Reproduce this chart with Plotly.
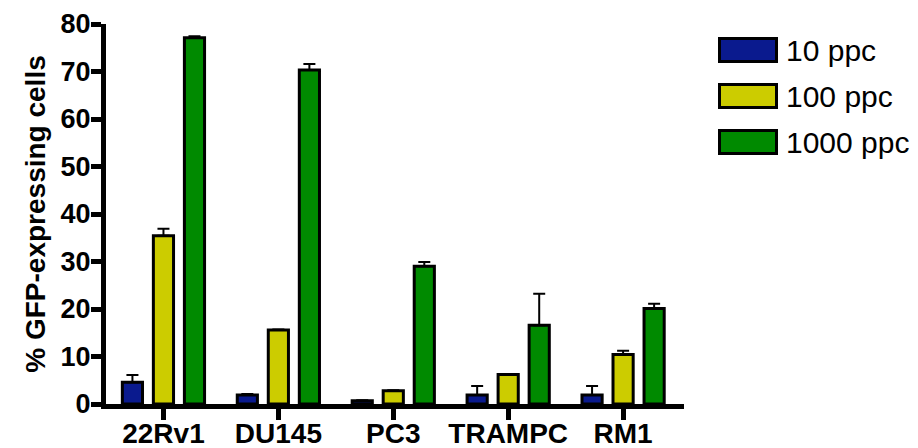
import plotly.graph_objects as go

# Cell lines and transfection doses
cell_lines = ["22Rv1", "DU145", "PC3", "TRAMPC", "RM1"]
series_names = ["10 ppc", "100 ppc", "1000 ppc"]
series_colors = ["#0A1A8E", "#CCCC00", "#008A00"]

# % GFP-expressing cells (mean) per dose
gfp_10 = [4.6, 1.9, 0.7, 1.9, 1.9]
gfp_100 = [35.4, 15.6, 2.8, 6.2, 10.4]
gfp_1000 = [77.1, 70.3, 29.0, 16.6, 20.1]

# Upper error (SD) per dose
err_10 = [1.5, 0.2, 0.1, 1.9, 1.9]
err_100 = [1.5, 0.1, 0.1, 0.1, 0.8]
err_1000 = [0.3, 1.3, 0.9, 6.6, 1.0]

y_ticks = [0, 10, 20, 30, 40, 50, 60, 70, 80]

values = [gfp_10, gfp_100, gfp_1000]
errors = [err_10, err_100, err_1000]

FONT = "Liberation Sans, Arial, sans-serif"

fig = go.Figure()
for name, color, vals, errs in zip(series_names, series_colors, values, errors):
    fig.add_trace(go.Bar(
        x=cell_lines,
        y=vals,
        name=name,
        marker=dict(color=color, line=dict(color="black", width=3)),
        error_y=dict(type="data", symmetric=False, array=errs,
                     arrayminus=[0] * len(errs), color="black",
                     thickness=2, width=6),
        showlegend=False,
    ))

# Figure geometry (pixels) used to place the custom legend
W, H = 918, 448
ML, MR, MT, MB = 106, 234, 24, 44
PW, PH = W - ML - MR, H - MT - MB


def px_x(x):
    return (x - ML) / PW


def px_y(y):
    return (H - MB - y) / PH


# Custom legend with large swatches
legend_x0, legend_w, legend_h = 719.5, 57, 23
legend_y0, legend_step = 50, 46
shapes, annotations = [], []
for i, (name, color) in enumerate(zip(series_names, series_colors)):
    cy = legend_y0 + i * legend_step
    shapes.append(dict(
        type="rect", xref="paper", yref="paper",
        x0=px_x(legend_x0), x1=px_x(legend_x0 + legend_w),
        y0=px_y(cy + legend_h / 2), y1=px_y(cy - legend_h / 2),
        fillcolor=color, line=dict(color="black", width=3),
    ))
    annotations.append(dict(
        xref="paper", yref="paper", x=px_x(784), y=px_y(cy),
        text=name, showarrow=False, xanchor="left", yanchor="middle",
        font=dict(family=FONT, size=30, color="black"),
    ))

fig.update_layout(
    width=W, height=H,
    margin=dict(l=ML, r=MR, t=MT, b=MB, autoexpand=False),
    paper_bgcolor="white", plot_bgcolor="white",
    barmode="group", bargap=0.19, bargroupgap=0.35,
    shapes=shapes, annotations=annotations,
    showlegend=False,
)
fig.update_xaxes(
    range=[-0.5, 4.53], showline=True, linecolor="black", linewidth=5,
    ticks="outside", ticklen=11, tickwidth=5, tickcolor="black",
    ticklabelstandoff=-11,
    tickfont=dict(family=FONT, size=28, color="black", weight="bold"),
    showgrid=False, zeroline=False, automargin=False,
)
fig.update_yaxes(
    range=[0, 80], tickvals=y_ticks, showline=True, linecolor="black",
    linewidth=5, ticks="outside", ticklen=10, tickwidth=5, tickcolor="black",
    ticklabelstandoff=-5,
    tickfont=dict(family=FONT, size=27, color="black", weight="bold"),
    title=dict(text="% GFP-expressing cells", standoff=8,
               font=dict(family=FONT, size=28, color="black", weight="bold")),
    showgrid=False, zeroline=False, automargin=False,
)

fig.write_html("out.html")
